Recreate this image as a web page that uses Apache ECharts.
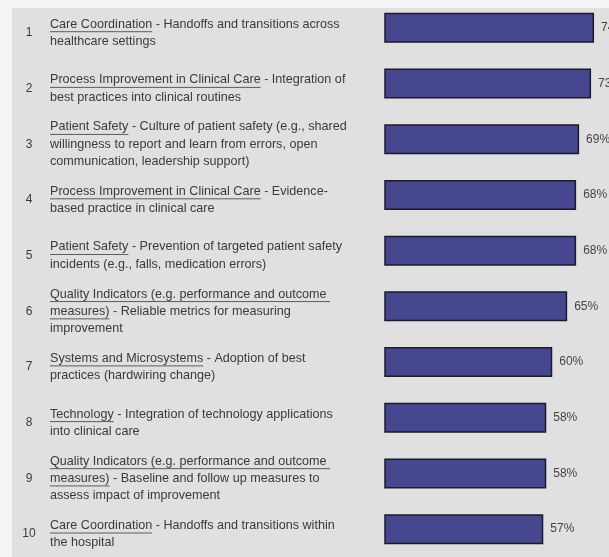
<!DOCTYPE html>
<html><head><meta charset="utf-8">
<script src="https://cdn.jsdelivr.net/npm/echarts@6/dist/echarts.min.js"></script>
<style>html,body{margin:0;padding:0;background:#f5f5f7}#c{width:609px;height:557px}</style>
</head><body><div id="c"></div>
<script>
const ranks = ['1','2','3','4','5','6','7','8','9','10'];
const values = [74, 73, 69, 68, 68, 65, 60, 58, 58, 57];
// each category: lines; each line: segments [text, underlined]
const labelLines = [
  [[['Care Coordination',1],[' - Handoffs and transitions across',0]],[['healthcare settings',0]]],
  [[['Process Improvement in Clinical Care',1],[' - Integration of',0]],[['best practices into clinical routines',0]]],
  [[['Patient Safety',1],[' - Culture of patient safety (e.g., shared',0]],[['willingness to report and learn from errors, open',0]],[['communication, leadership support)',0]]],
  [[['Process Improvement in Clinical Care',1],[' - Evidence-',0]],[['based practice in clinical care',0]]],
  [[['Patient Safety',1],[' - Prevention of targeted patient safety',0]],[['incidents (e.g., falls, medication errors)',0]]],
  [[['Quality Indicators (e.g. performance and outcome ',1]],[['measures)',1],[' - Reliable metrics for measuring',0]],[['improvement',0]]],
  [[['Systems and Microsystems',1],[' - Adoption of best',0]],[['practices (hardwiring change)',0]]],
  [[['Technology',1],[' - Integration of technology applications',0]],[['into clinical care',0]]],
  [[['Quality Indicators (e.g. performance and outcome ',1]],[['measures)',1],[' - Baseline and follow up measures to',0]],[['assess impact of improvement',0]]],
  [[['Care Coordination',1],[' - Handoffs and transitions within',0]],[['the hospital',0]]]
];

const FONT_SIZE = 12.6;
const FONT_FAMILY = '"Liberation Sans", Arial, sans-serif';
const TEXT_COLOR = '#3a3a3a';

const chart = echarts.init(document.getElementById('c'), null, {renderer: 'canvas'});
chart.setOption({
  backgroundColor: '#f5f5f7',
  animation: false,
  grid: {left: 385, right: 3, top: -2, height: 562},
  xAxis: {type: 'value', min: 4, max: 78, show: false},
  yAxis: {type: 'category', data: ranks, inverse: true, show: false},
  series: [{
    type: 'bar',
    data: values,
    barWidth: 30,
    itemStyle: {color: '#47478f', borderColor: '#1a1a2e', borderWidth: 1.5},
    label: {show: true, position: 'right', distance: 7, formatter: '{c}%',
            color: '#444', fontSize: 12, fontFamily: FONT_FAMILY}
  }]
});

const cv = document.createElement('canvas').getContext('2d');
cv.font = FONT_SIZE + 'px ' + FONT_FAMILY;
const elements = [{
  type: 'rect', z: -10, shape: {x: 12, y: 8, width: 609, height: 560},
  style: {fill: '#e0e0e0'}, silent: true
}];
const lineH = 17.3, textX = 50, rankX = 29, yShift = 5;
labelLines.forEach((lines, i) => {
  const cy = chart.convertToPixel({yAxisIndex: 0}, i) + yShift;
  const y0 = cy - (lines.length - 1) * lineH / 2;
  elements.push({type: 'text', x: rankX, y: cy, silent: true,
    style: {text: ranks[i], font: '12px ' + FONT_FAMILY, fill: TEXT_COLOR, align: 'center', verticalAlign: 'middle'}});
  lines.forEach((segs, li) => {
    const y = y0 + li * lineH;
    let x = textX;
    segs.forEach(([t, u]) => {
      const w = cv.measureText(t).width;
      elements.push({type: 'text', x: x, y: y, silent: true,
        style: {text: t, font: FONT_SIZE + 'px ' + FONT_FAMILY, fill: TEXT_COLOR, align: 'left', verticalAlign: 'middle'}});
      if (u) {
        elements.push({type: 'line', silent: true,
          shape: {x1: x, y1: y + 7.5, x2: x + w, y2: y + 7.5},
          style: {stroke: TEXT_COLOR, lineWidth: 0.8}});
      }
      x += w;
    });
  });
});
chart.setOption({graphic: {elements: elements}});
</script></body></html>
